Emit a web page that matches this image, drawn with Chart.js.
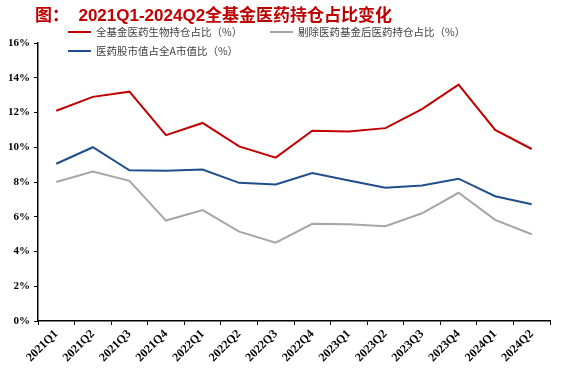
<!DOCTYPE html>
<html>
<head>
<meta charset="utf-8">
<script src="https://cdn.jsdelivr.net/npm/chart.js@4"></script>
<style>
    html, body { margin: 0; padding: 0; background: #fff; }
    #wrap { width: 569px; height: 369px; }
</style>
</head>
<body>
<div id="wrap"><canvas id="chart"></canvas></div>
<script>
const quarters = ['2021Q1', '2021Q2', '2021Q3', '2021Q4', '2022Q1', '2022Q2', '2022Q3',
    '2022Q4', '2023Q1', '2023Q2', '2023Q3', '2023Q4', '2024Q1', '2024Q2'];

const allFundPharma = [12.1, 12.9, 13.2, 10.7, 11.4, 10.05, 9.4, 10.95, 10.9, 11.1, 12.2, 13.6, 11.0, 9.9];
const exPharmaFund = [8.0, 8.6, 8.07, 5.78, 6.38, 5.14, 4.51, 5.59, 5.57, 5.45, 6.2, 7.38, 5.82, 4.99];
const pharmaMktCap = [9.05, 10.0, 8.67, 8.65, 8.72, 7.95, 7.86, 8.51, 8.09, 7.67, 7.8, 8.19, 7.18, 6.72];

const seriesLabels = ['全基金医药生物持仓占比（%）', '剔除医药基金后医药持仓占比（%）', '医药股市值占全A市值比（%）'];
const yTicks = [0, 2, 4, 6, 8, 10, 12, 14, 16];

const red = '#C00000';
const gray = '#A6A6A6';
const blue = '#1F4E8C';

// title + two-row legend drawn by hand
const headerPlugin = {
    id: 'header',
    afterDraw(chart) {
        const ctx = chart.ctx;
        ctx.save();
        ctx.fillStyle = red;
        ctx.textBaseline = 'middle';
        ctx.font = 'bold 17px "Liberation Sans", "Noto Sans CJK SC"';
        ctx.fillText('图：  2021Q1-2024Q2全基金医药持仓占比变化', 35, 16);

        const items = [
            { x: 68, y: 32, ds: 0 },
            { x: 270, y: 32, ds: 1 },
            { x: 68, y: 51, ds: 2 },
        ];
        ctx.font = '10.5px "Noto Sans CJK SC"';
        items.forEach(it => {
            const ds = chart.data.datasets[it.ds];
            ctx.strokeStyle = ds.borderColor;
            ctx.lineWidth = 2;
            ctx.beginPath();
            ctx.moveTo(it.x, it.y);
            ctx.lineTo(it.x + 23, it.y);
            ctx.stroke();
            ctx.fillStyle = '#404040';
            ctx.fillText(ds.label, it.x + 28, it.y);
        });
        ctx.restore();
    }
};

new Chart(document.getElementById('chart'), {
    type: 'line',
    data: {
        labels: quarters,
        datasets: [
            { label: seriesLabels[0], data: allFundPharma, borderColor: red },
            { label: seriesLabels[1], data: exPharmaFund, borderColor: gray },
            { label: seriesLabels[2], data: pharmaMktCap, borderColor: blue },
        ].map(d => Object.assign(d, { borderWidth: 2, pointRadius: 0, tension: 0, fill: false })),
    },
    options: {
        responsive: true,
        maintainAspectRatio: false,
        animation: false,
        layout: { padding: { top: 43, left: 4, right: 19, bottom: 2 } },
        plugins: {
            legend: { display: false },
            title: { display: false },
            tooltip: { enabled: false },
        },
        scales: {
            x: {
                offset: true,
                grid: { offset: true, drawOnChartArea: false, drawTicks: true, tickLength: 4, color: '#000' },
                border: { color: '#000', width: 1.5 },
                ticks: {
                    color: '#000',
                    font: { family: '"Liberation Serif"', size: 12, weight: 'bold' },
                    maxRotation: 45,
                    minRotation: 45,
                    autoSkip: false,
                    padding: 2,
                },
            },
            y: {
                min: 0,
                max: 16,
                afterBuildTicks: axis => { axis.ticks = yTicks.map(v => ({ value: v })); },
                grid: { drawOnChartArea: false, drawTicks: true, tickLength: 4, color: '#000' },
                border: { color: '#000', width: 1.5 },
                ticks: {
                    color: '#000',
                    font: { family: '"Liberation Serif"', size: 11, weight: 'bold' },
                    padding: 4,
                    callback: v => v + '%',
                },
            },
        },
    },
    plugins: [headerPlugin],
});
</script>
</body>
</html>
